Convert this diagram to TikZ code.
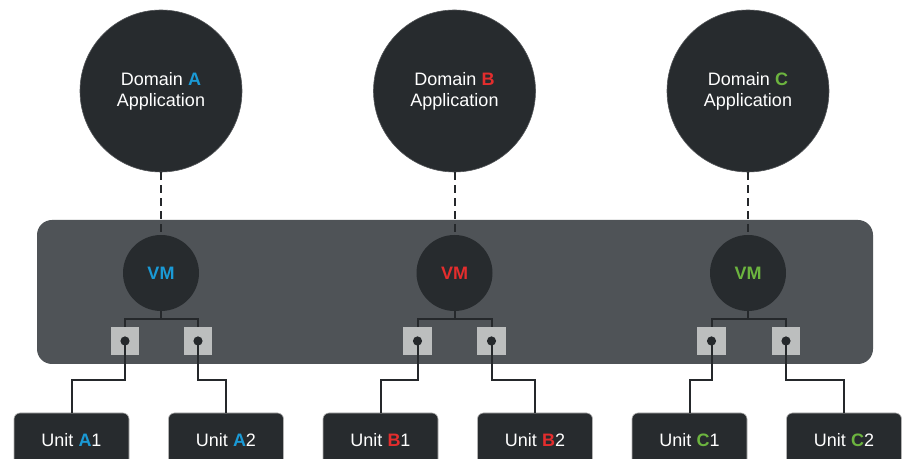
\documentclass[tikz,border=0pt]{standalone}
\usepackage{fontspec}
\setmainfont{Liberation Sans}
\usetikzlibrary{positioning}

\definecolor{nodebg}{HTML}{272B2E}
\definecolor{panelbg}{HTML}{4F5357}
\definecolor{portbg}{HTML}{BCBEBE}
\definecolor{wirec}{HTML}{25282B}
\definecolor{domA}{HTML}{1A9AD6}
\definecolor{domB}{HTML}{E42D2D}
\definecolor{domC}{HTML}{6CB43F}

\begin{document}
\begin{tikzpicture}[x=0.5pt,y=-0.5pt,
% Node styles
    app/.style={circle,fill=nodebg,draw=nodebg!80!white,line width=0.3pt,
		minimum size=81pt,inner sep=0pt,text=white,align=center,
		font=\fontsize{9}{11.5}\selectfont},
    vm/.style={circle,fill=nodebg,minimum size=38pt,inner sep=0pt,
		font=\fontsize{9}{10}\selectfont\bfseries},
    panel/.style={rectangle,fill=panelbg,rounded corners=7.5pt,
		minimum width=418pt,minimum height=72pt},
    port/.style={rectangle,fill=portbg,minimum size=14pt,inner sep=0pt},
    pin/.style={circle,fill=wirec,minimum size=4.6pt,inner sep=0pt},
    unit/.style={rectangle,fill=nodebg,draw=gray!60,line width=0.3pt,
		rounded corners=3pt,minimum width=57.5pt,minimum height=27pt,
		text=white,font=\fontsize{9}{10}\selectfont},
% Connector styles
    wire/.style={draw=wirec,line width=1pt},
    link/.style={draw=wirec,line width=1pt,dash pattern=on 4pt off 2.5pt},
    ]
  \clip (0,0) rectangle (907,459);
  \fill[white] (0,0) rectangle (907,459);

  % hypervisor panel
  \node (hub) [panel] at (455,292) {};

  % domain applications
  \node (appA) [app] at (161,91) {\raisebox{-1pt}{\shortstack{Domain \textcolor{domA}{\bfseries A}\\[1pt]Application}}};
  \node (appB) [app] at (454.5,91) {\raisebox{-1pt}{\shortstack{Domain \textcolor{domB}{\bfseries B}\\[1pt]Application}}};
  \node (appC) [app] at (748,91) {\raisebox{-1pt}{\shortstack{Domain \textcolor{domC}{\bfseries C}\\[1pt]Application}}};

  % virtual machines
  \node (vmA) [vm,text=domA] at (161,273) {VM};
  \node (vmB) [vm,text=domB] at (454.5,273) {VM};
  \node (vmC) [vm,text=domC] at (748,273) {VM};

  \draw[link] (appA) -- (vmA);
  \draw[link] (appB) -- (vmB);
  \draw[link] (appC) -- (vmC);

  % ports
  \node (pA1) [port] at (125,341) {};
  \node (pA2) [port] at (198,341) {};
  \node (pB1) [port] at (417.5,341) {};
  \node (pB2) [port] at (491.5,341) {};
  \node (pC1) [port] at (711.5,341) {};
  \node (pC2) [port] at (786,341) {};

  % units
  \node (uA1) [unit] at (71.5,440) {Unit \textcolor{domA}{\bfseries A}1};
  \node (uA2) [unit] at (226,440) {Unit \textcolor{domA}{\bfseries A}2};
  \node (uB1) [unit] at (380.5,440) {Unit \textcolor{domB}{\bfseries B}1};
  \node (uB2) [unit] at (535,440) {Unit \textcolor{domB}{\bfseries B}2};
  \node (uC1) [unit] at (689.5,440) {Unit \textcolor{domC}{\bfseries C}1};
  \node (uC2) [unit] at (844,440) {Unit \textcolor{domC}{\bfseries C}2};

  % VM to ports
  \coordinate (jA) at (161,319);
  \coordinate (jB) at (454.5,319);
  \coordinate (jC) at (748,319);
  \draw[wire] (vmA) -- (jA);
  \draw[wire] (vmB) -- (jB);
  \draw[wire] (vmC) -- (jC);
  \draw[wire] (pA1.center) |- (jA) -| (pA2.center);
  \draw[wire] (pB1.center) |- (jB) -| (pB2.center);
  \draw[wire] (pC1.center) |- (jC) -| (pC2.center);
  % redraw ports over the wires
  \foreach \p in {pA1,pA2,pB1,pB2,pC1,pC2}
    \fill[portbg] (\p.south west) rectangle (\p.north east);

  % ports to units
  \coordinate (eA1) at (71.5,380);
  \coordinate (eA2) at (226,380);
  \coordinate (eB1) at (380.5,380);
  \coordinate (eB2) at (535,380);
  \coordinate (eC1) at (689.5,380);
  \coordinate (eC2) at (844,380);
  \draw[wire] (pA1.center) |- (eA1) -- (uA1);
  \draw[wire] (pA2.center) |- (eA2) -- (uA2);
  \draw[wire] (pB1.center) |- (eB1) -- (uB1);
  \draw[wire] (pB2.center) |- (eB2) -- (uB2);
  \draw[wire] (pC1.center) |- (eC1) -- (uC1);
  \draw[wire] (pC2.center) |- (eC2) -- (uC2);

  % pins
  \node (dA1) [pin] at (pA1) {};
  \node (dA2) [pin] at (pA2) {};
  \node (dB1) [pin] at (pB1) {};
  \node (dB2) [pin] at (pB2) {};
  \node (dC1) [pin] at (pC1) {};
  \node (dC2) [pin] at (pC2) {};
\end{tikzpicture}
\end{document}
